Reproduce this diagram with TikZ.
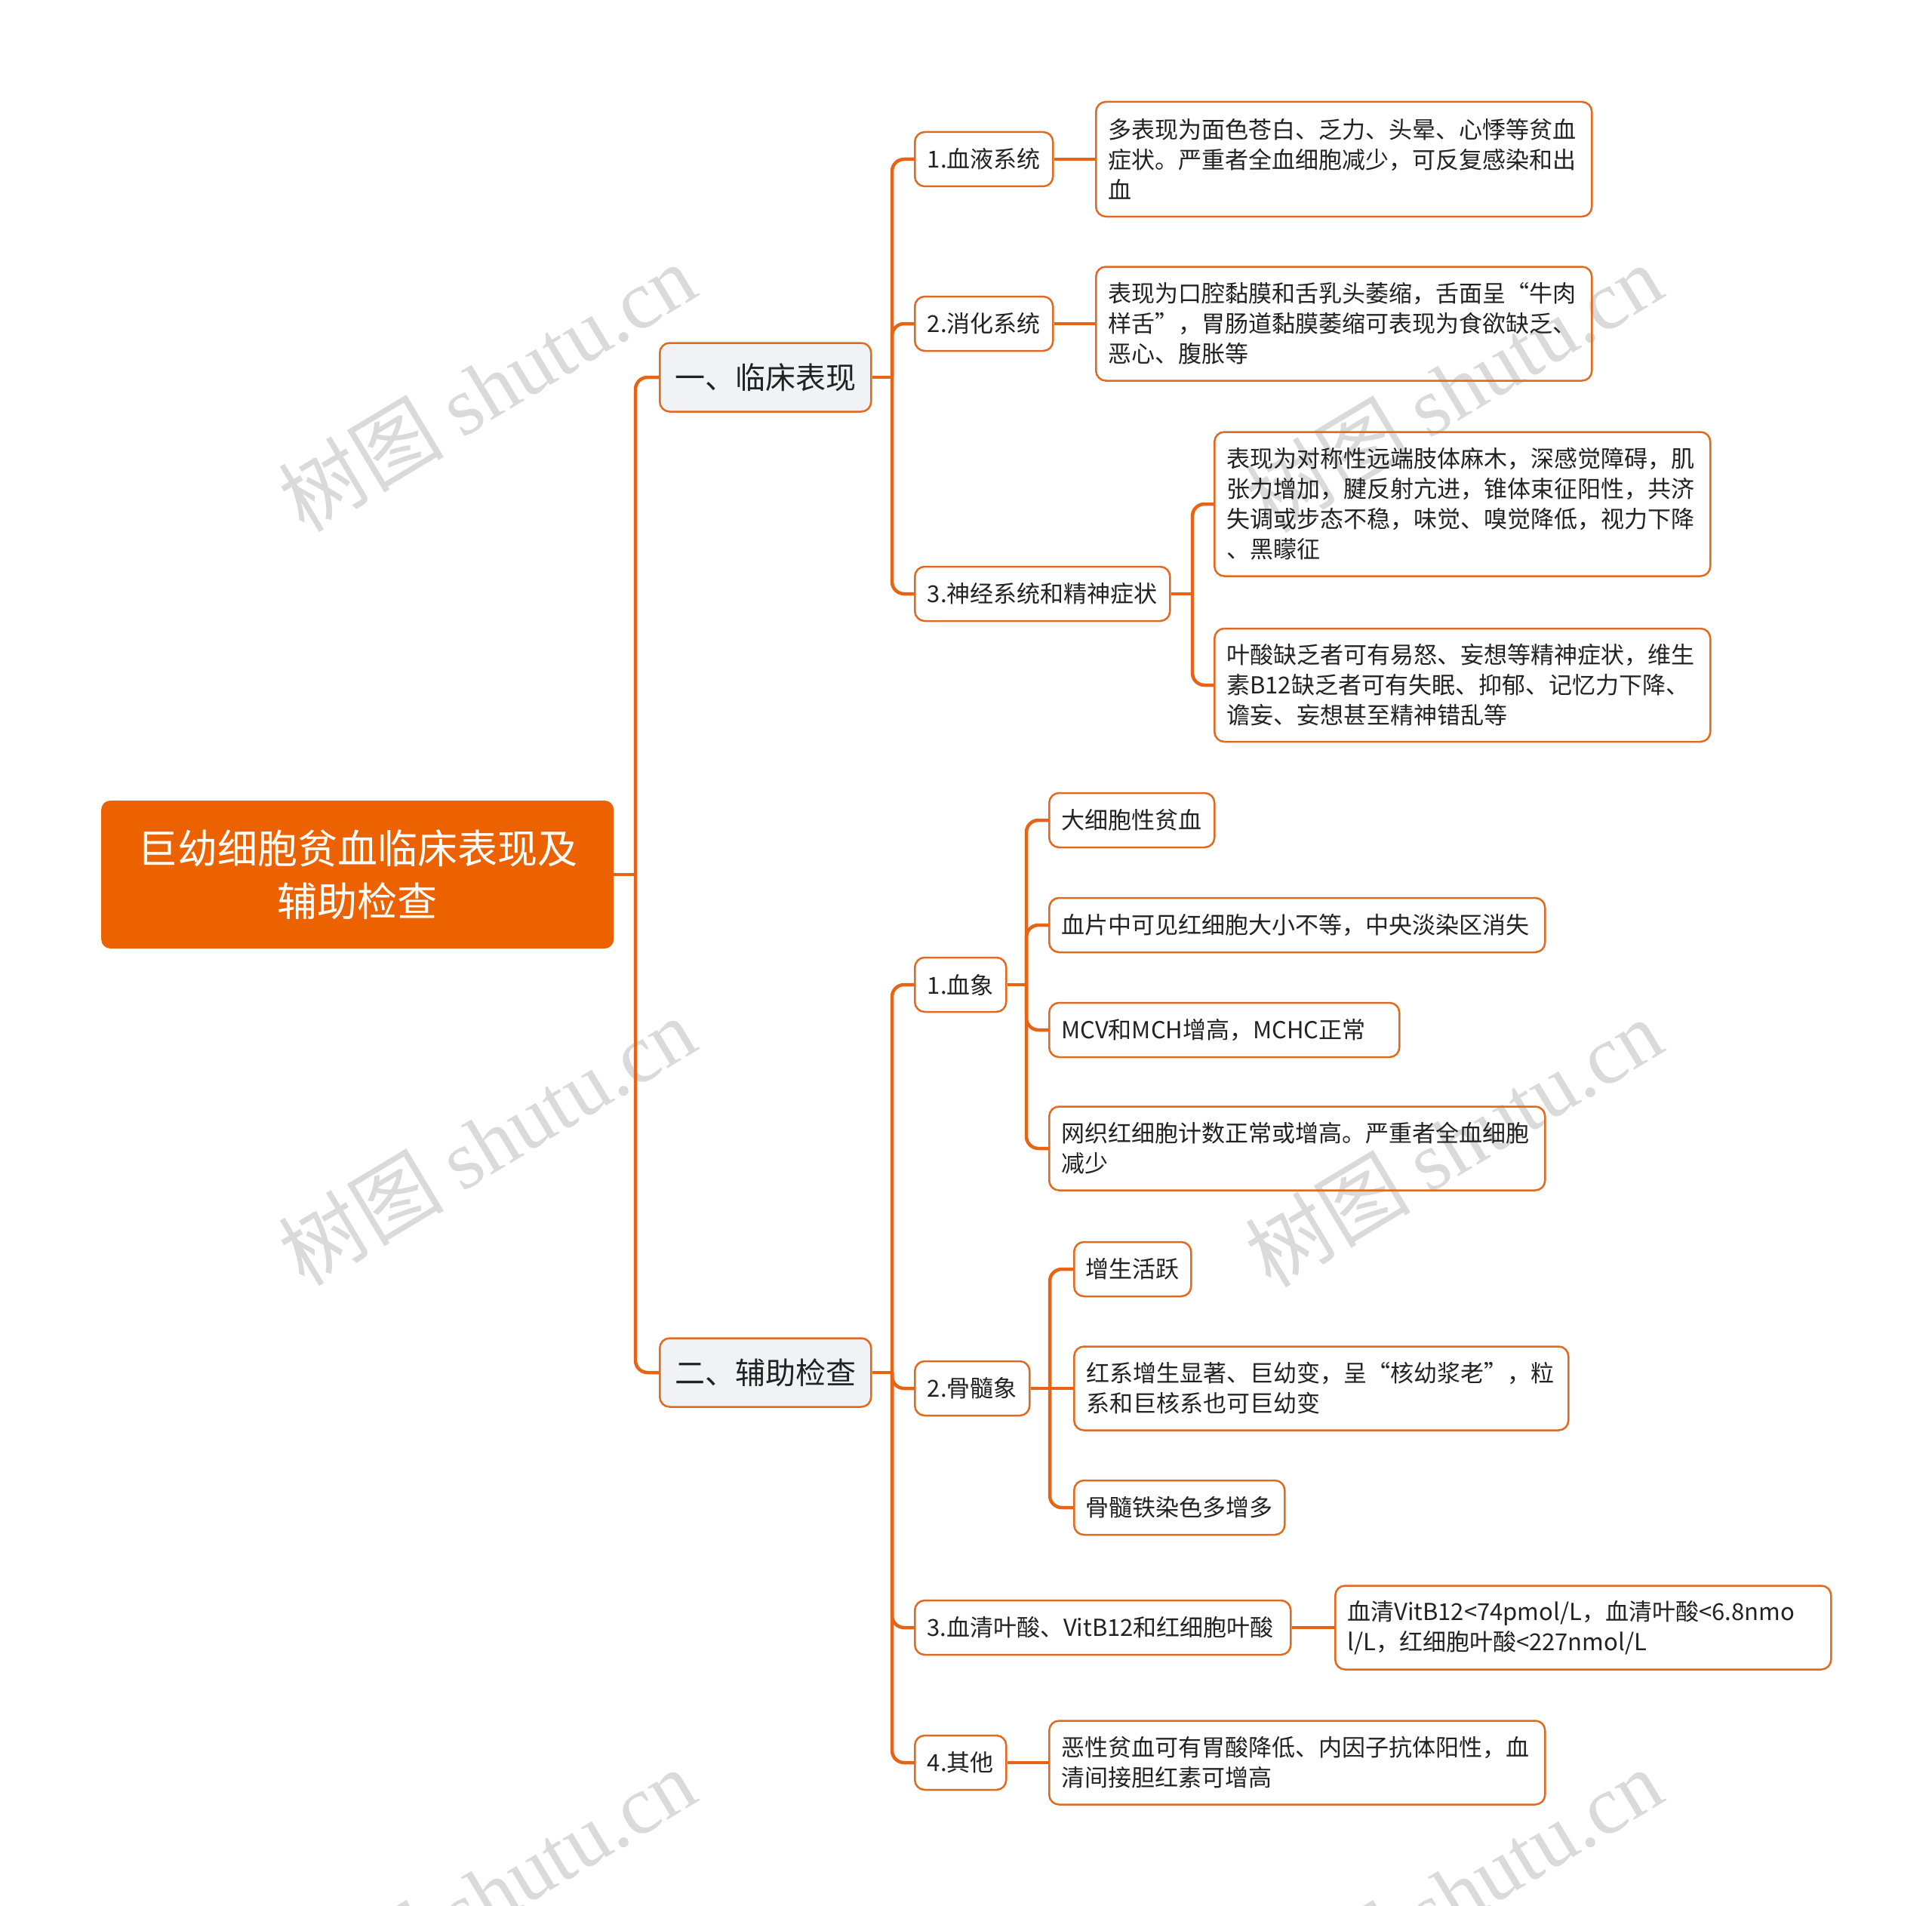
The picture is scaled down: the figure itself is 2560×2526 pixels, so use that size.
\documentclass[tikz,border=0pt]{standalone}
\usepackage{fontspec}
\setmainfont{Noto Sans CJK SC}
\newfontfamily\wmlatin{Liberation Serif}
\definecolor{mainorange}{RGB}{236,98,0}
\definecolor{lineorange}{RGB}{230,100,20}
\definecolor{boxborder}{RGB}{224,106,32}
\definecolor{lonefill}{RGB}{240,242,245}
\definecolor{txt}{RGB}{34,34,34}
\definecolor{wmgray}{RGB}{218,218,218}
\begin{document}
\begin{tikzpicture}[x=1pt,y=-1pt,
  rootbox/.style={fill=mainorange, rounded corners=12pt, text=white, font=\fontsize{53}{70}\selectfont, align=center, minimum width=679pt, minimum height=196pt, inner sep=0pt, anchor=west},
  lonebox/.style={draw=boxborder, line width=2.5pt, fill=lonefill, rounded corners=13pt, text=txt, font=\fontsize{40}{50}\selectfont, minimum width=280pt, minimum height=91pt, inner sep=0pt, anchor=west},
  ltwobox/.style={draw=boxborder, line width=2.5pt, rounded corners=13pt, text=txt, font=\fontsize{31}{40}\selectfont, minimum height=72pt, inner sep=0pt, anchor=west},
  leafbox/.style={draw=boxborder, line width=2.5pt, rounded corners=13pt, text=txt, font=\fontsize{31}{40}\selectfont, align=left, inner xsep=16pt, inner ysep=0pt, anchor=west},
  conn/.style={draw=lineorange, line width=4.5pt, rounded corners=16pt},
  wm/.style={text=wmgray, rotate=31, inner sep=0pt, font=\fontsize{110}{110}\selectfont}
]
\useasboundingbox (0,0) rectangle (2560,2526);
\clip (0,0) rectangle (2560,2526);

% watermarks
\node[wm] (w1) at (645,513) {树图 {\wmlatin shutu.cn}};
\node[wm] (w2) at (645,1512) {树图 {\wmlatin shutu.cn}};
\node[wm] (w3) at (1926,1514) {树图 {\wmlatin shutu.cn}};
\node[wm] (w4) at (1926,514) {树图 {\wmlatin shutu.cn}};
\node[wm] (w5) at (645,2508) {树图 {\wmlatin shutu.cn}};
\node[wm] (w6) at (1926,2508) {树图 {\wmlatin shutu.cn}};

% nodes
\node[rootbox] (root) at (134,1159) {巨幼细胞贫血临床表现及\\辅助检查};
\node[lonebox] (n1) at (873,500) {一、临床表现};
\node[lonebox] (n2) at (873,1819) {二、辅助检查};

\node[ltwobox, minimum width=183pt] (a1) at (1211,211) {1.血液系统};
\node[ltwobox, minimum width=183pt] (a2) at (1211,429) {2.消化系统};
\node[ltwobox, minimum width=338pt] (a3) at (1211,787) {3.神经系统和精神症状};

\node[leafbox, text width=625pt, minimum height=152pt] (l1) at (1451,211) {多表现为面色苍白、乏力、头晕、心悸等贫血\\症状。严重者全血细胞减少，可反复感染和出\\血};
\node[leafbox, text width=625pt, minimum height=151pt] (l2) at (1451,429) {表现为口腔黏膜和舌乳头萎缩，舌面呈“牛肉\\样舌”，胃肠道黏膜萎缩可表现为食欲缺乏、\\恶心、腹胀等};
\node[leafbox, text width=625pt, minimum height=191pt] (l3a) at (1608,668) {表现为对称性远端肢体麻木，深感觉障碍，肌\\张力增加，腱反射亢进，锥体束征阳性，共济\\失调或步态不稳，味觉、嗅觉降低，视力下降\\、黑矇征};
\node[leafbox, text width=625pt, minimum height=150pt] (l3b) at (1608,908) {叶酸缺乏者可有易怒、妄想等精神症状，维生\\素B12缺乏者可有失眠、抑郁、记忆力下降、\\谵妄、妄想甚至精神错乱等};

\node[ltwobox, minimum width=121pt] (b1) at (1211,1305) {1.血象};
\node[ltwobox, minimum width=152pt] (b2) at (1211,1840) {2.骨髓象};
\node[leafbox, text width=466pt, minimum height=72pt] (b3) at (1211,2157) {3.血清叶酸、VitB12和红细胞叶酸};
\node[ltwobox, minimum width=121pt] (b4) at (1211,2336) {4.其他};

\node[ltwobox, minimum width=219pt] (c1) at (1389,1087) {大细胞性贫血};
\node[leafbox, text width=625pt, minimum height=72pt] (c2) at (1389,1226) {血片中可见红细胞大小不等，中央淡染区消失};
\node[leafbox, text width=432pt, minimum height=72pt] (c3) at (1389,1365) {MCV和MCH增高，MCHC正常};
\node[leafbox, text width=625pt, minimum height=111pt] (c4) at (1389,1522) {网织红细胞计数正常或增高。严重者全血细胞\\减少};

\node[ltwobox, minimum width=155pt] (d1) at (1422,1682) {增生活跃};
\node[leafbox, text width=623pt, minimum height=111pt] (d2) at (1422,1840) {红系增生显著、巨幼变，呈“核幼浆老”，粒\\系和巨核系也可巨幼变};
\node[ltwobox, minimum width=279pt] (d3) at (1422,1998) {骨髓铁染色多增多};

\node[leafbox, text width=625pt, minimum height=111pt] (e1) at (1768,2157) {血清VitB12<74pmol/L，血清叶酸<6.8nmo\\l/L，红细胞叶酸<227nmol/L};
\node[leafbox, text width=625pt, minimum height=111pt] (f1) at (1389,2336) {恶性贫血可有胃酸降低、内因子抗体阳性，血\\清间接胆红素可增高};

% junctions
\coordinate (j0) at (842,1159);
\coordinate (j1) at (1182,500);
\coordinate (j2) at (1182,1819);
\coordinate (j3) at (1580,787);
\coordinate (j4) at (1360,1305);
\coordinate (j5) at (1391,1840);

% connectors
\draw[conn] (root.east) -- (j0);
\draw[conn] (j0) |- (n1.west);
\draw[conn] (j0) |- (n2.west);

\draw[conn] (n1.east) -- (j1);
\draw[conn] (j1) |- (a1.west);
\draw[conn] (j1) |- (a2.west);
\draw[conn] (j1) |- (a3.west);
\draw[conn] (a1.east) -- (l1.west);
\draw[conn] (a2.east) -- (l2.west);
\draw[conn] (a3.east) -- (j3);
\draw[conn] (j3) |- (l3a.west);
\draw[conn] (j3) |- (l3b.west);

\draw[conn] (n2.east) -- (j2);
\draw[conn] (j2) |- (b1.west);
\draw[conn] (j2) |- (b2.west);
\draw[conn] (j2) |- (b3.west);
\draw[conn] (j2) |- (b4.west);

\draw[conn] (b1.east) -- (j4);
\draw[conn] (j4) |- (c1.west);
\draw[conn] (j4) |- (c2.west);
\draw[conn] (j4) |- (c3.west);
\draw[conn] (j4) |- (c4.west);

\draw[conn] (b2.east) -- (j5);
\draw[conn] (j5) |- (d1.west);
\draw[conn] (j5) -- (d2.west);
\draw[conn] (j5) |- (d3.west);

\draw[conn] (b3.east) -- (e1.west);
\draw[conn] (b4.east) -- (f1.west);
\end{tikzpicture}
\end{document}
